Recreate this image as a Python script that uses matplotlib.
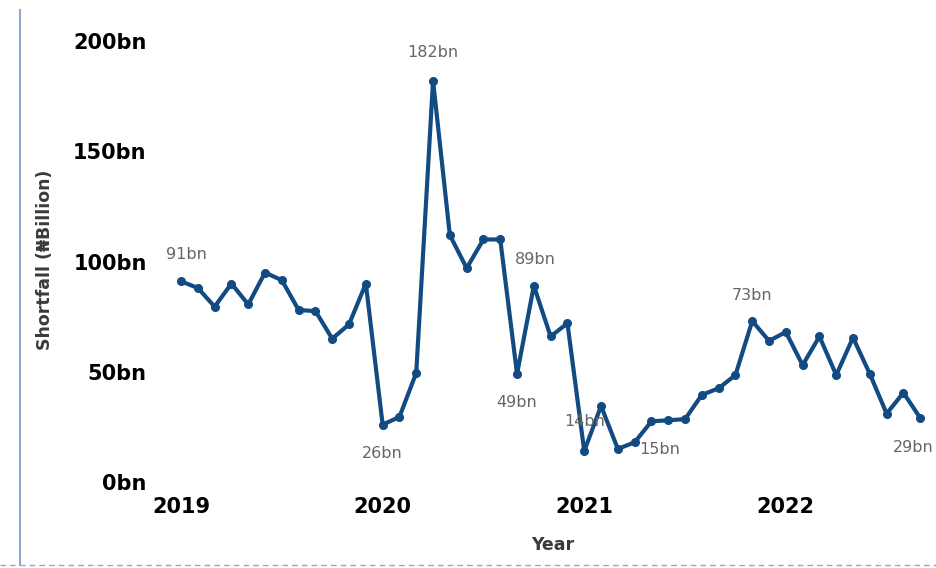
import numpy as np
import matplotlib.pyplot as plt
from matplotlib.lines import Line2D

# monthly shortfall, Jan 2019 - Sep 2022 (N billion)
shortfall = [91, 88, 79.5, 90, 80.5, 95, 91.5, 78, 77.5, 65, 71.5, 90,
             26, 29.5, 49.5, 182, 112, 97, 110, 110, 49, 89, 66, 72,
             14, 34.5, 15, 18, 27.5, 28, 28.5, 39.5, 42.5, 48.5,
             73, 64, 68, 53, 66, 48.5, 65.5, 49, 31, 40.5, 29]
years = [2019, 2020, 2021, 2022]
y_ticks = [0, 50, 100, 150, 200]

# which points get a data label, and where the label sits (offset in px)
label_offsets = {0: (5, 27), 12: (0, -29), 15: (0, 28), 20: (0, -29),
                 21: (1, 26), 24: (0, 30), 26: (42, -1), 34: (0, 26),
                 44: (-7, -29)}

months = np.arange(len(shortfall))
blue = '#124B82'

fig = plt.figure(figsize=(9.37, 5.68), dpi=100)
ax = fig.add_axes([155 / 937, 86 / 568, (932 - 155) / 937, 441 / 568])

ax.plot(months, shortfall, color=blue, lw=3, marker='o', ms=5.5,
        solid_joinstyle='round', clip_on=False)

for i, (dx, dy) in label_offsets.items():
    ax.annotate('%dbn' % round(shortfall[i]), (months[i], shortfall[i]),
                xytext=(dx * 0.72, dy * 0.72), textcoords='offset points',
                ha='center', va='center', fontsize=11.5, color='#666666',
                annotation_clip=False)

ax.set_xlim(-1.55, 44.7)
ax.set_ylim(0, 200)
ax.set_xticks([12 * (y - 2019) for y in years])
ax.set_xticklabels([str(y) for y in years], fontsize=15, fontweight='bold')
ax.set_yticks(y_ticks)
ax.set_yticklabels(['%dbn' % v for v in y_ticks], fontsize=15,
                   fontweight='bold')
ax.tick_params(axis='x', length=0, pad=11)
ax.tick_params(axis='y', length=0, pad=6)
for s in ax.spines.values():
    s.set_visible(False)

fig.text(553 / 937, 1 - 545 / 568, 'Year', ha='center', va='center',
         fontsize=12.5, fontweight='bold', color='#3a3a3a')
fig.text(45 / 937, 1 - 260 / 568, 'Shortfall (₦Billion)', ha='center',
         va='center', rotation=90, fontsize=12.5, fontweight='bold',
         color='#3a3a3a')

# visual frame
fig.add_artist(Line2D([20 / 937, 20 / 937], [1 - 10 / 568, 1 - 565 / 568],
                      transform=fig.transFigure, color='#8FA9CC', lw=1.5))
fig.add_artist(Line2D([0, 1], [1 - 565 / 568, 1 - 565 / 568],
                      transform=fig.transFigure, color='#8FA9CC', lw=1,
                      ls=(0, (4, 3))))

fig.savefig('out.png', dpi=100)
